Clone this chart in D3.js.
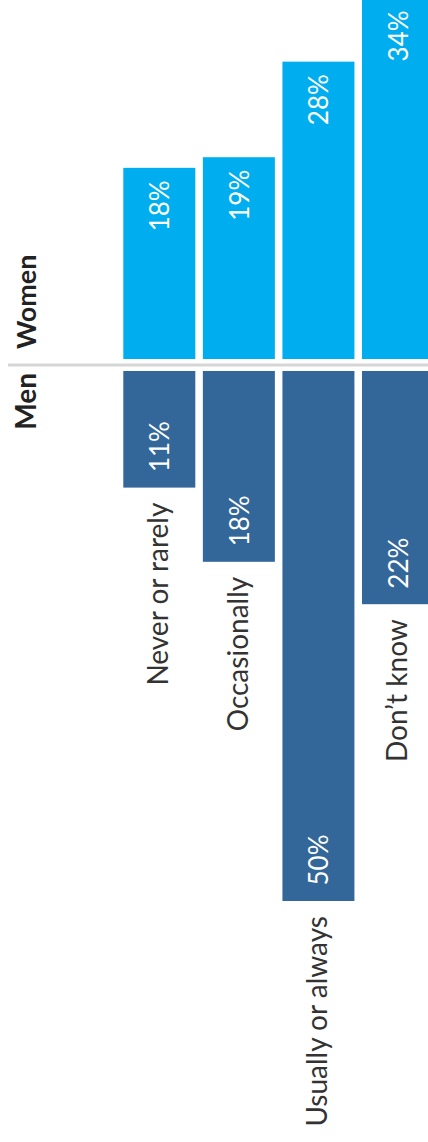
<!DOCTYPE html>
<html>
<head>
<meta charset="utf-8">
<script src="https://cdn.jsdelivr.net/npm/d3@7"></script>
<style>
  html, body { margin: 0; padding: 0; background: #fff; }
  svg { display: block; }
</style>
</head>
<body>
<svg id="chart" width="428" height="1142"></svg>
<script>
// Survey answers, share of respondents (%)
const categories = ["Never or rarely", "Occasionally", "Usually or always", "Don\u2019t know"];
const women = [18, 19, 28, 34];
const men = [11, 18, 50, 22];
const groupLabels = ["Women", "Men"];

const W = 428, H = 1142;
const svg = d3.select("#chart");
const font = "Lato, 'Open Sans', sans-serif";

// Categories run left to right; values grow up (women) and down (men)
const x = d3.scaleBand()
  .domain(categories)
  .range([123.3, 434])
  .paddingInner(0.095)
  .paddingOuter(0);

const yWomen = d3.scaleLinear().domain([0, 50]).range([359, 359 - 531]);
const yMen = d3.scaleLinear().domain([0, 50]).range([371, 371 + 530]);

const womenData = categories.map((c, i) => ({ cat: c, v: women[i] }));
const menData = categories.map((c, i) => ({ cat: c, v: men[i] }));

// divider between the two groups
svg.append("line")
  .attr("x1", 8).attr("x2", W)
  .attr("y1", 365).attr("y2", 365)
  .attr("stroke", "#d6d6d6")
  .attr("stroke-width", 3);

// women bars
svg.append("g").selectAll("rect")
  .data(womenData).join("rect")
  .attr("x", d => x(d.cat))
  .attr("width", x.bandwidth())
  .attr("y", d => yWomen(d.v))
  .attr("height", d => yWomen(0) - yWomen(d.v))
  .attr("fill", "#00aeef");

// men bars
svg.append("g").selectAll("rect")
  .data(menData).join("rect")
  .attr("x", d => x(d.cat))
  .attr("width", x.bandwidth())
  .attr("y", yMen(0))
  .attr("height", d => yMen(d.v) - yMen(0))
  .attr("fill", "#336799");

// labels are rotated to read bottom to top
function rotText(g, px, py, anchor) {
  return g.attr("transform", `translate(${px},${py}) rotate(-90)`)
    .attr("text-anchor", anchor);
}

svg.append("g").selectAll("text")
  .data(womenData).join("text")
  .each(function (d) {
    const cx = x(d.cat) + x.bandwidth() / 2;
    const top = Math.max(yWomen(d.v) + 12.5, 6);
    rotText(d3.select(this), cx + 10, top, "end");
  })
  .attr("font-family", font)
  .attr("font-weight", 400)
  .attr("font-size", 26)
  .attr("fill", "#fff")
  .text(d => d.v + "%");

svg.append("g").selectAll("text")
  .data(menData).join("text")
  .each(function (d) {
    const cx = x(d.cat) + x.bandwidth() / 2;
    rotText(d3.select(this), cx + 10, yMen(d.v) - 15.5, "start");
  })
  .attr("font-family", font)
  .attr("font-weight", 400)
  .attr("font-size", 26)
  .attr("fill", "#fff")
  .text(d => d.v + "%");

// category names below the men bars
svg.append("g").selectAll("text")
  .data(menData).join("text")
  .each(function (d) {
    const cx = x(d.cat) + x.bandwidth() / 2;
    rotText(d3.select(this), cx + 9, yMen(d.v) + 15, "end");
  })
  .attr("font-family", font)
  .attr("font-size", 28)
  .attr("fill", "#333")
  .text(d => d.cat);

// group names
svg.append("text")
  .call(rotText, 36, 349, "start")
  .attr("font-family", font)
  .attr("font-weight", 700)
  .attr("font-size", 27)
  .attr("fill", "#222")
  .text(groupLabels[0]);

svg.append("text")
  .call(rotText, 36, 373, "end")
  .attr("font-family", font)
  .attr("font-weight", 700)
  .attr("font-size", 28)
  .attr("fill", "#222")
  .text(groupLabels[1]);
</script>
</body>
</html>
